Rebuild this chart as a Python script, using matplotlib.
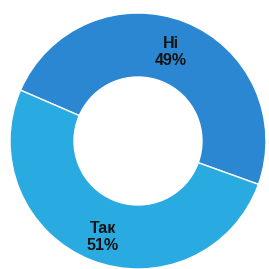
import matplotlib.pyplot as plt
import numpy as np

labels = ["Ні", "Так"]
shares = [49, 51]
colors = ["#2b87d1", "#29abe2"]

fig = plt.figure(figsize=(2.69, 2.69), dpi=100)
ax = fig.add_axes([0, 0, 1, 1])

wedges, _ = ax.pie(
    shares,
    colors=colors,
    startangle=156.6,
    counterclock=False,
    radius=1.0,
    wedgeprops=dict(width=0.5, edgecolor="white", linewidth=1),
)

# labels sit near the middle of each ring segment
label_r = [0.74, 0.80]
for w, name, val, r in zip(wedges, labels, shares, label_r):
    mid = np.deg2rad((w.theta1 + w.theta2) / 2 + 1.5)
    ax.text(r * np.cos(mid), r * np.sin(mid), f"{name}\n{val}%",
            ha="center", va="center", fontsize=11.5, fontweight="bold",
            family=["Liberation Sans", "DejaVu Sans"], color="#141414",
            linespacing=1.2)

ax.set_xlim(-138 / 128, 131 / 128)
ax.set_ylim(-1.0, 141 / 128)
ax.set_aspect("auto")
ax.axis("off")

fig.savefig("out.png", dpi=100)
